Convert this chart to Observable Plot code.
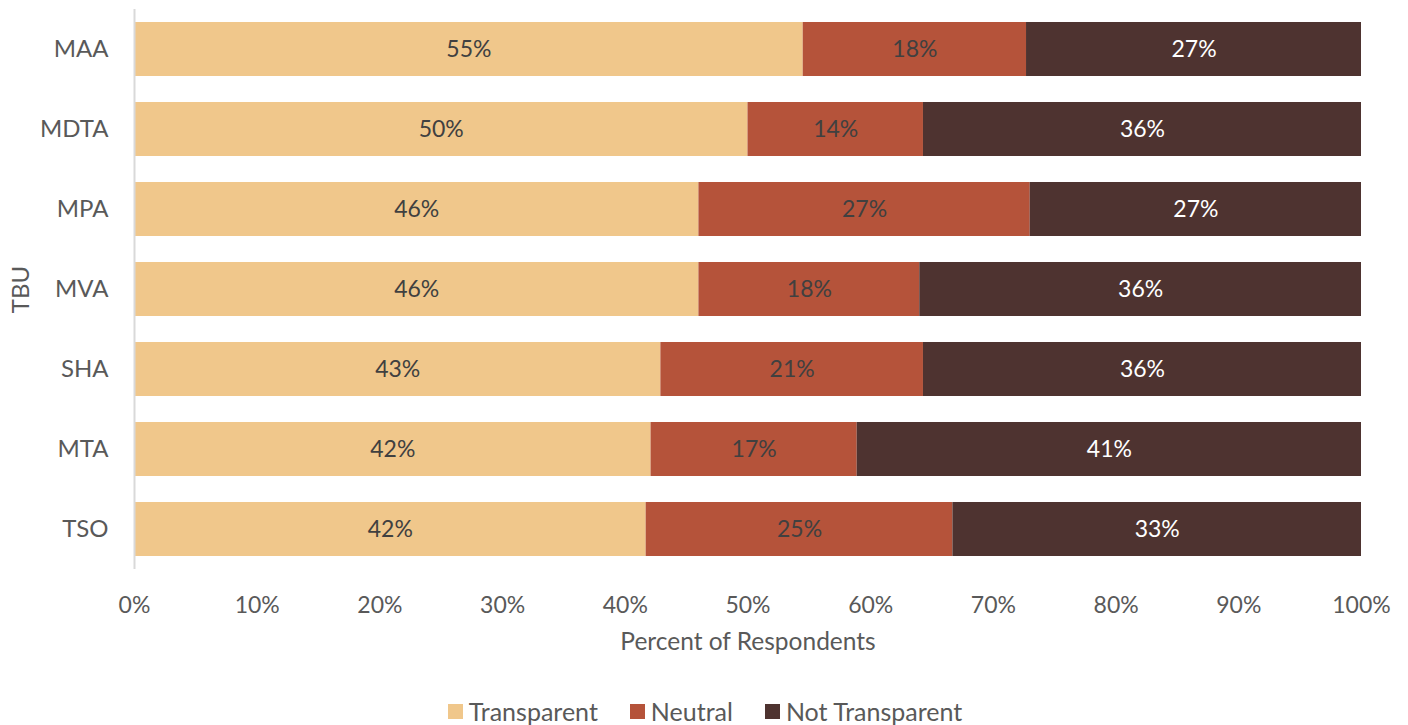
<!DOCTYPE html>
<html>
<head>
<meta charset="utf-8">
<script src="https://cdn.jsdelivr.net/npm/d3@7"></script>
<script src="https://cdn.jsdelivr.net/npm/@observablehq/plot@0.6"></script>
<style>
  body { margin: 0; background: #fff; font-family: Lato, "Open Sans", sans-serif; }
  #legend { display: flex; justify-content: center; gap: 32px; font-size: 25px; color: #595959; height: 40px; align-items: center; padding-left: 2px; margin-top: 11px; }
  #legend .item { display: flex; align-items: center; gap: 6px; }
  #legend .sw { width: 15px; height: 15px; display: inline-block; }
</style>
</head>
<body>
<div id="chart"></div>
<div id="legend"></div>
<script>
const tbus = ["MAA", "MDTA", "MPA", "MVA", "SHA", "MTA", "TSO"];
const categories = ["Transparent", "Neutral", "Not Transparent"];
const transparent = [54.5, 50.0, 46.0, 46.0, 42.9, 42.1, 41.7];
const neutral = [18.2, 14.3, 27.0, 18.0, 21.4, 16.8, 25.0];
const notTransparent = [27.3, 35.7, 27.0, 36.0, 35.7, 41.1, 33.3];
const xTicks = [0, 10, 20, 30, 40, 50, 60, 70, 80, 90, 100];
const colors = ["#F0C78B", "#B5533A", "#4E3330"];
const labelColors = ["#404040", "#404040", "#ffffff"];

const series = [transparent, neutral, notTransparent];
const data = [];
tbus.forEach((t, i) => categories.forEach((c, j) => data.push({tbu: t, category: c, value: series[j][i]})));

const chart = Plot.plot({
  width: 1408,
  height: 680,
  marginLeft: 134,
  marginRight: 47,
  marginTop: 9,
  marginBottom: 111,
  style: {fontFamily: "Lato, 'Open Sans', sans-serif", fontSize: "23px", color: "#595959", background: "#fff"},
  x: {domain: [0, 100]},
  y: {domain: tbus, paddingInner: 0.33, paddingOuter: 0.165},
  color: {domain: categories, range: colors},
  marks: [
    Plot.barX(data, {x: "value", y: "tbu", fill: "category", order: categories}),
    Plot.text(data, Plot.stackX({
      x: "value", y: "tbu", z: "category", order: categories,
      text: d => Math.round(d.value) + "%",
      fill: d => labelColors[categories.indexOf(d.category)],
      fontSize: 23
    })),
    Plot.ruleX([0], {stroke: "#d9d9d9", strokeWidth: 2}),
    Plot.axisX({ticks: xTicks, tickFormat: d => d + "%", tickSize: 0, tickPadding: 27, label: null, fontSize: 23}),
    Plot.axisX({ticks: [], tickSize: 0, label: "Percent of Respondents", labelArrow: "none", labelAnchor: "center", labelOffset: 80, fontSize: 24.5}),
    Plot.axisY({tickSize: 0, tickPadding: 26, label: "TBU", labelArrow: "none", labelAnchor: "center", labelOffset: 123, fontSize: 24})
  ]
});
document.getElementById("chart").appendChild(chart);

const legend = document.getElementById("legend");
categories.forEach((c, j) => {
  const item = document.createElement("div");
  item.className = "item";
  const sw = document.createElement("span");
  sw.className = "sw";
  sw.style.background = colors[j];
  const lab = document.createElement("span");
  lab.textContent = c;
  item.appendChild(sw);
  item.appendChild(lab);
  legend.appendChild(item);
});
</script>
</body>
</html>
